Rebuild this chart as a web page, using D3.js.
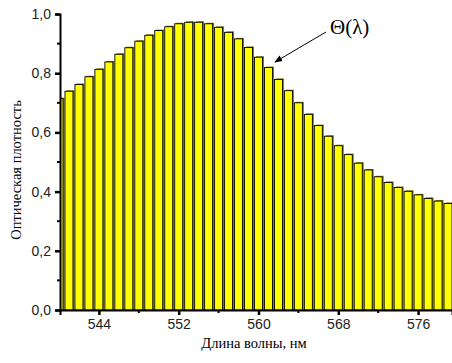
<!DOCTYPE html>
<html><head><meta charset="utf-8">
<script src="https://cdn.jsdelivr.net/npm/d3@7"></script>
<style>body{margin:0;background:#fff}svg{display:block}</style>
</head><body>
<script>
const wavelengths = d3.range(540, 580);
const density = [0.714,0.739,0.762,0.788,0.813,0.838,0.864,0.886,0.908,0.928,
  0.944,0.957,0.967,0.972,0.972,0.967,0.955,0.938,0.916,0.887,
  0.854,0.819,0.779,0.741,0.700,0.661,0.623,0.587,0.555,0.525,
  0.496,0.473,0.450,0.431,0.414,0.401,0.389,0.377,0.368,0.360];
const xTicks = [544, 552, 560, 568, 576];
const xMinor = [548, 556, 564, 572];
const yTicks = [0, 0.2, 0.4, 0.6, 0.8, 1.0];
const yMinor = [0.1, 0.3, 0.5, 0.7, 0.9];
const xTitle = "Длина волны, нм";
const yTitle = "Оптическая плотность";
const note = "Θ(λ)";

const W = 452, H = 363;
const svg = d3.select("body").append("svg").attr("width", W).attr("height", H);
const x = d3.scaleLinear().domain([540.1, 579.4]).range([60, 452]);
const y = d3.scaleLinear().domain([0, 1]).range([310, 14]);
const fmt = d3.format(".1f");
const comma = v => fmt(v).replace(".", ",");

svg.append("clipPath").attr("id", "c").append("rect")
  .attr("x", 60).attr("y", 0).attr("width", W - 60).attr("height", 311);

const bw = 8;
const bars = svg.append("g").attr("clip-path", "url(#c)");
const data = wavelengths.map((w, i) => ({w, v: density[i]}));
bars.selectAll(".sh").data(data).join("rect")
  .attr("x", d => x(d.w) - bw / 2 + 1.5).attr("y", d => y(d.v) - 1)
  .attr("width", bw).attr("height", d => y(0) - y(d.v) + 1)
  .attr("fill", "#808000");
bars.selectAll(".b").data(data).join("rect")
  .attr("x", d => x(d.w) - bw / 2).attr("y", d => y(d.v))
  .attr("width", bw).attr("height", d => y(0) - y(d.v))
  .attr("fill", "#ffff00").attr("stroke", "#000").attr("stroke-width", 0.9);

const tickFont = "Arial, 'Liberation Sans', sans-serif";
const serif = "'Liberation Serif', 'Times New Roman', serif";

// axes
const ax = svg.append("g").attr("transform", "translate(0,310)");
ax.call(d3.axisBottom(x).tickValues(xTicks).tickSize(5).tickPadding(4).tickFormat(d3.format("d")));
ax.select(".domain").attr("stroke-width", 2);
ax.selectAll(".tick line").attr("stroke-width", 2.5);
ax.selectAll(".tick text").attr("font-family", tickFont).attr("font-size", 14).attr("fill", "#222");
ax.selectAll(".minor").data(xMinor).join("line").attr("class", "minor")
  .attr("x1", d => x(d)).attr("x2", d => x(d)).attr("y1", 0).attr("y2", 3)
  .attr("stroke", "#000").attr("stroke-width", 2);

const ay = svg.append("g").attr("transform", "translate(60,0)");
ay.call(d3.axisLeft(y).tickValues(yTicks).tickSize(5).tickPadding(4).tickFormat(comma));
ay.select(".domain").attr("stroke-width", 2);
ay.selectAll(".tick line").attr("stroke-width", 2.5);
ay.selectAll(".tick text").attr("font-family", tickFont).attr("font-size", 14).attr("fill", "#222");
ay.selectAll(".minor").data(yMinor).join("line").attr("class", "minor")
  .attr("x1", 0).attr("x2", -3).attr("y1", d => y(d)).attr("y2", d => y(d))
  .attr("stroke", "#000").attr("stroke-width", 2);

svg.append("text").attr("x", 254).attr("y", 348).attr("text-anchor", "middle")
  .attr("font-family", serif).attr("font-size", 14.5)
  .text(xTitle);
svg.append("text").attr("transform", "translate(21,170) rotate(-90)").attr("text-anchor", "middle")
  .attr("font-family", serif).attr("font-size", 14.5)
  .text(yTitle);

// annotation
svg.append("defs").append("marker").attr("id", "ah").attr("viewBox", "0 0 10 10")
  .attr("refX", 9).attr("refY", 5).attr("markerWidth", 8).attr("markerHeight", 8)
  .attr("orient", "auto").attr("markerUnits", "userSpaceOnUse")
  .append("path").attr("d", "M0,1 L10,5 L0,9 Z").attr("fill", "#000");
svg.append("line").attr("x1", 326).attr("y1", 32).attr("x2", 275).attr("y2", 62)
  .attr("stroke", "#000").attr("stroke-width", 1).attr("marker-end", "url(#ah)");
svg.append("text").attr("x", 330).attr("y", 34)
  .attr("font-family", serif).attr("font-size", 21)
  .text(note);
</script>
</body></html>
